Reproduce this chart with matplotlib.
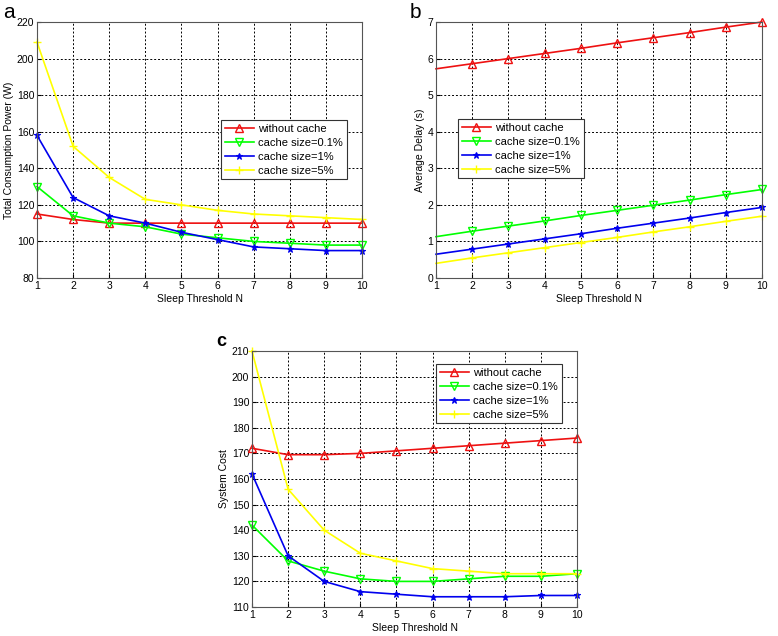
import numpy as np
import matplotlib.pyplot as plt

plt.rcParams['font.family'] = ['Liberation Sans', 'DejaVu Sans']

N = list(range(1, 11))
labels = ['without cache', 'cache size=0.1%', 'cache size=1%', 'cache size=5%']

# a: total consumption power (W)
power_nocache = [115, 112, 110, 110, 110, 110, 110, 110, 110, 110]
power_c01 = [130, 114, 110, 108, 104, 102, 100, 99, 98, 98]
power_c1 = [158, 124, 114, 110, 105, 101, 97, 96, 95, 95]
power_c5 = [209, 152, 135, 123, 120, 117, 115, 114, 113, 112]

# b: average delay (s)
delay_nocache = [5.72, 5.86, 6.0, 6.14, 6.28, 6.43, 6.57, 6.71, 6.86, 7.0]
delay_c01 = [1.13, 1.28, 1.42, 1.56, 1.71, 1.85, 1.99, 2.13, 2.28, 2.42]
delay_c1 = [0.65, 0.79, 0.93, 1.07, 1.21, 1.36, 1.50, 1.64, 1.79, 1.93]
delay_c5 = [0.40, 0.55, 0.69, 0.83, 0.97, 1.11, 1.26, 1.40, 1.55, 1.69]

# c: system cost
cost_nocache = [172, 169.5, 169.5, 170, 171, 172, 173, 174, 175, 176]
cost_c01 = [142, 128, 124, 121, 120, 120, 121, 122, 122, 123]
cost_c1 = [162, 130, 120, 116, 115, 114, 114, 114, 114.5, 114.5]
cost_c5 = [210, 156, 140, 131, 128, 125, 124, 123, 123, 123]

styles = [
    dict(color='#ee1111', marker='^', mfc='none', ms=6, mew=1.0),
    dict(color='#00ff00', marker='v', mfc='none', ms=6, mew=1.0),
    dict(color='#0000ee', marker='*', ms=4.5, mew=0.8),
    dict(color='#ffff00', marker='+', ms=6, mew=1.0),
]

W, H = 778, 636
fig = plt.figure(figsize=(W / 100, H / 100), dpi=100)


def px_axes(x0, y0, x1, y1):
    return fig.add_axes([x0 / W, 1 - y1 / H, (x1 - x0) / W, (y1 - y0) / H])


def draw(ax, series, ylim, yticks, ylabel, legend_box, markevery=None):
    for ys, lab, st in zip(series, labels, styles):
        ax.plot(N, ys, lw=1.2, label=lab, markevery=markevery, clip_on=False, **st)
    ax.set_xlim(1, 10)
    ax.set_ylim(*ylim)
    ax.set_xticks(N)
    ax.set_yticks(yticks)
    ax.grid(True, color='black', linestyle=(0, (2, 2)), linewidth=0.7)
    ax.tick_params(direction='in', labelsize=7.5, length=3, pad=2)
    for s in ax.spines.values():
        s.set_color('#555555')
    ax.set_xlabel('Sleep Threshold N', fontsize=7.5, labelpad=2)
    ax.set_ylabel(ylabel, fontsize=7.5, labelpad=2)
    leg = ax.legend(loc='upper left', bbox_to_anchor=legend_box, fontsize=8,
                    fancybox=False, framealpha=1, edgecolor='#333333',
                    handlelength=2.6, borderpad=0.35, labelspacing=0.35,
                    handletextpad=0.4, borderaxespad=0)
    leg.get_frame().set_linewidth(0.8)


def box(ax_px, lx, ly):
    x0, y0, x1, y1 = ax_px
    return ((lx - x0) / (x1 - x0), 1 - (ly - y0) / (y1 - y0))


a_px = (37, 22, 362, 278)
b_px = (436, 22, 762, 278)
c_px = (252, 351, 577, 607)

ax_a = px_axes(*a_px)
draw(ax_a, [power_nocache, power_c01, power_c1, power_c5], (80, 220),
     range(80, 221, 20), 'Total Consumption Power (W)', box(a_px, 221, 120))

ax_b = px_axes(*b_px)
draw(ax_b, [delay_nocache, delay_c01, delay_c1, delay_c5], (0, 7),
     range(0, 8), 'Average Delay (s)', box(b_px, 458, 119), markevery=range(1, 10))

ax_c = px_axes(*c_px)
draw(ax_c, [cost_nocache, cost_c01, cost_c1, cost_c5], (110, 210),
     range(110, 211, 10), 'System Cost', box(c_px, 436, 364))

fig.text(3 / W, 1 - 18 / H, 'a', fontsize=15)
fig.text(410 / W, 1 - 18 / H, 'b', fontsize=15)
fig.text(216 / W, 1 - 346 / H, 'c', fontsize=13, fontweight='bold')

fig.savefig('out.png', dpi=100)
